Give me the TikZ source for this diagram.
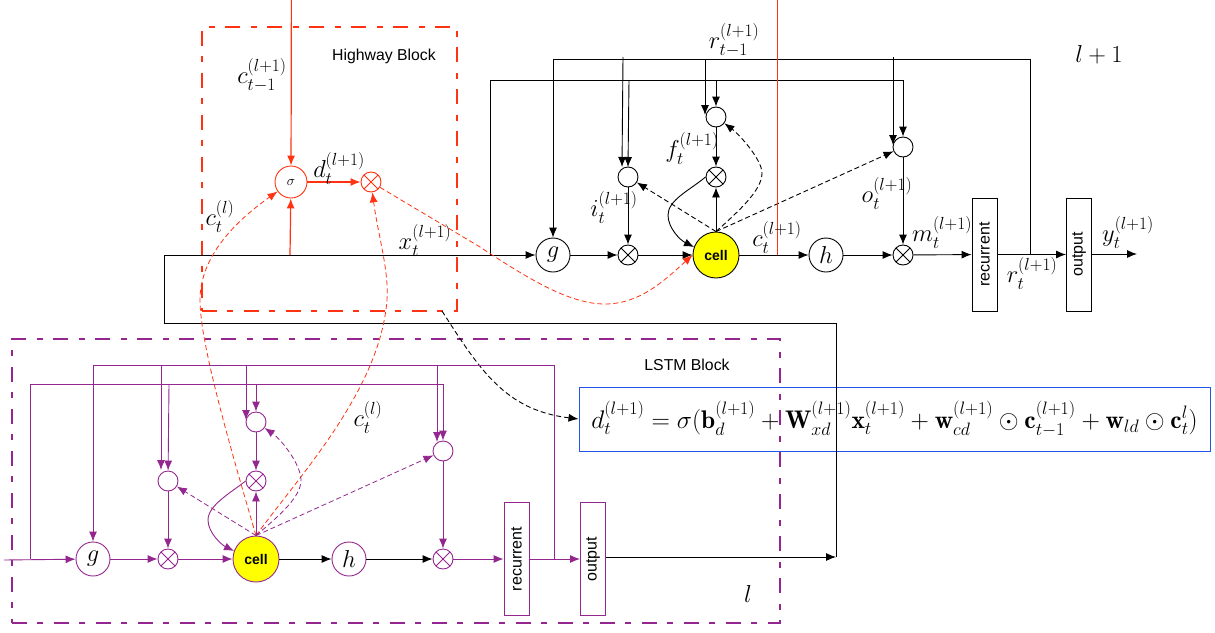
\documentclass[tikz,border=0pt]{standalone}
\usepackage{amsmath}
\usepackage{fix-cm}
\usepackage{fontspec}
\newfontfamily\hv{Liberation Sans}
\usetikzlibrary{arrows.meta}
\DeclareMathSizes{24.5}{24.5}{17.5}{13}
\DeclareMathSizes{25.5}{25.5}{18}{13.5}
\definecolor{pur}{HTML}{93278F}
\definecolor{rd}{HTML}{FF3311}
\definecolor{bl}{HTML}{2255EE}
\definecolor{yel}{HTML}{FFFF00}
\newcommand{\labfont}{\fontsize{24.5}{29}\selectfont}
\newcommand{\eqfont}{\fontsize{25.5}{30}\selectfont}
\tikzset{
  conn/.style={line width=0.9pt,-{Latex[length=10pt,width=8pt]}},
  plain/.style={line width=0.9pt},
  dsh/.style={dash pattern=on 5pt off 3pt,line width=0.9pt},
  circ/.style={circle,draw,inner sep=0pt,line width=0.9pt,minimum size=#1,fill=white},
  mult/.style={circ=20pt,draw=#1,path picture={
     \draw[line width=0.8pt,#1] (path picture bounding box.north west)--(path picture bounding box.south east)
     (path picture bounding box.north east)--(path picture bounding box.south west);}},
  mult/.default=black,
  cellnode/.style={circle,draw,fill=yel,minimum size=46pt,inner sep=0pt,line width=0.9pt,font=\hv\bfseries\fontsize{14}{16}\selectfont},
  boxn/.style={draw,fill=white,line width=0.9pt,minimum width=25pt,minimum height=113pt,inner sep=0pt,font=\hv\fontsize{16}{18}\selectfont},
  blocklabel/.style={font=\hv\fontsize{15.8}{18}\selectfont,inner sep=0pt},
  lab/.style={inner sep=0pt,font=\labfont},
  frame/.style={draw,line width=2pt,dash pattern=on 15pt off 10pt on 6pt off 11pt,inner sep=0pt},
}
\begin{document}
\begin{tikzpicture}[x=1pt,y=-1pt]
\useasboundingbox (0,0) rectangle (1215,632);
% frames
\node[frame,draw=rd,minimum width=255pt,minimum height=284pt] (hframe) at (329.5,169) {};
\node[frame,draw=pur,minimum width=768pt,minimum height=284pt] (lframe) at (396,481) {};
% top-layer nodes
\node[circ=34pt] (g1) at (553,255) {\labfont$g$};
\node[circ=20pt] (ic1) at (628,177) {};
\node[mult] (im1) at (628,255) {};
\node[circ=20pt] (fc1) at (716,117) {};
\node[mult] (fm1) at (716,177) {};
\node[cellnode] (cell1) at (716,255) {cell};
\node[circ=34pt] (h1) at (826,255) {\labfont$h$};
\node[circ=20pt] (oc1) at (903,147) {};
\node[mult] (om1) at (903,255) {};
\node[boxn] (rec1) at (984.5,254.5) {\rotatebox{90}{recurrent}};
\node[boxn] (out1) at (1079,254.5) {\rotatebox{90}{output}};
\coordinate (yend) at (1137,254);
% highway
\node[circ=32pt,draw=rd] (sig) at (291,182) {\fontsize{14}{16}\selectfont$\sigma$};
\node[mult=rd] (hm) at (371,182) {};
% bottom-layer nodes
\node[circ=34pt,draw=pur] (g0) at (93,559) {\labfont$g$};
\node[circ=20pt,draw=pur] (ic0) at (168,481) {};
\node[mult=pur] (im0) at (168,559) {};
\node[circ=20pt,draw=pur] (fc0) at (256,422) {};
\node[mult=pur] (fm0) at (256,481) {};
\node[cellnode,draw=pur] (cell0) at (256,559) {cell};
\node[circ=34pt,draw=pur] (h0) at (349,559) {\labfont$h$};
\node[circ=20pt,draw=pur] (oc0) at (443,451) {};
\node[mult=pur] (om0) at (443,559) {};
\node[boxn,draw=pur] (rec0) at (516.5,559) {\rotatebox{90}{recurrent}};
\node[boxn,draw=pur] (out0) at (593,559) {\rotatebox{90}{output}};
% coordinates
\coordinate (a1) at (164,255); \coordinate (a2) at (164,323); \coordinate (a3) at (836,323); \coordinate (a4) at (836,557);
\coordinate (b1) at (490,255); \coordinate (b2) at (490,80); \coordinate (b3) at (903,80);
\coordinate (c1) at (553,59); \coordinate (c2) at (1030,59); \coordinate (c3) at (1030,255);
\coordinate (s1a) at (623,57); \coordinate (s1b) at (622,167);
\coordinate (s2a) at (629,80); \coordinate (s2b) at (628,167);
\coordinate (s3a) at (705,59); \coordinate (s3b) at (705,115);
\coordinate (s4a) at (716,80);
\coordinate (s5a) at (893,57); \coordinate (s5b) at (893,145);
\coordinate (rt) at (291.4,-2); \coordinate (rb) at (290,255);
\coordinate (redtop) at (777.2,-2); \coordinate (redbot) at (777.2,255);
% equation
\node[draw=bl,line width=1pt,minimum width=631pt,minimum height=64pt,inner sep=0pt] (eq) at (894.5,419)
 {\eqfont$d_t^{(l+1)}=\sigma(\mathbf{b}_d^{(l+1)}+\mathbf{W}_{xd}^{(l+1)}\mathbf{x}_t^{(l+1)}+\mathbf{w}_{cd}^{(l+1)}\odot\mathbf{c}_{t-1}^{(l+1)}+\mathbf{w}_{ld}\odot\mathbf{c}_t^{l})$};
\draw[plain] (a4)--(a3)--(a2)--(a1);
% black connectors top
\draw[conn] (a1)--(g1);
\draw[conn] (b1)--(b2)--(b3)--(oc1);
\draw[conn] (c3)--(c2)--(c1)--(g1);
\draw[conn] (s1a)--(s1b);
\draw[conn] (s2a)--(s2b);
\draw[conn] (s3a)--(s3b);
\draw[conn] (s4a)--(fc1);
\draw[conn] (s5a)--(s5b);
\draw[conn] (g1)--(im1);
\draw[conn] (im1)--(cell1);
\draw[conn] (ic1)--(im1);
\draw[conn] (fc1)--(fm1);
\draw[conn] (cell1)--(fm1);
\draw[conn] (cell1)--(h1);
\draw[conn] (h1)--(om1);
\draw[conn] (oc1)--(om1);
\draw[conn] (om1)--(rec1);
\draw[conn] (rec1)--(out1);
\draw[conn] (out1.east |- yend)--(yend);
\draw[conn] (fm1.west) .. controls (690,190) and (668,200) .. (668,215) .. controls (668,228) and (680,240) .. (cell1.160);
\draw[conn,dsh] (cell1.north)--(ic1);
\draw[conn,dsh] (cell1.north)--(oc1);
\draw[conn,dsh] (cell1.north) .. controls (740,210) and (762,190) .. (762,173) .. controls (762,160) and (740,135) .. (fc1);
\draw[conn,dsh] (442,311) .. controls (480,370) and (505,410) .. (eq.west);
% red
\draw[color=rd,line width=1.2pt] (redtop)--(redbot);
\draw[conn,rd,line width=1.2pt] (rt)--(sig);
\draw[conn,rd,line width=1.2pt] (rb)--(sig);
\draw[conn,rd,line width=1.2pt] (sig)--(hm);
\draw[conn,rd,dsh,line width=0.8pt] (hm) -- (480,247) .. controls (530,280) and (570,304) .. (605,304) .. controls (640,304) and (665,280) .. (cell1.west);
\draw[conn,rd,dsh,line width=0.8pt] (cell0.north) .. controls (225,430) and (200,340) .. (200,300) .. controls (200,260) and (230,225) .. (sig);
\draw[conn,rd,dsh,line width=0.8pt] (cell0.north) .. controls (300,475) and (380,390) .. (387,300) .. controls (389,270) and (378,235) .. (hm);
% purple
\coordinate (p1) at (30,559); \coordinate (p2) at (30,384); \coordinate (p3) at (443,384);
\coordinate (q1) at (93,365); \coordinate (q2) at (554,365); \coordinate (q3) at (554,559);
\coordinate (in0) at (4,560);
\coordinate (t1a) at (161,365); \coordinate (t1b) at (161,470);
\coordinate (t2a) at (169,384);
\coordinate (t3a) at (246,365); \coordinate (t3b) at (246,420);
\coordinate (t4a) at (256,384);
\coordinate (t5a) at (437,365); \coordinate (t5b) at (437,442);
\begin{scope}[pur]
\draw[conn] (in0)--(g0);
\draw[conn] (p1)--(p2)--(p3)--(oc0);
\draw[conn] (q3)--(q2)--(q1)--(g0);
\draw[conn] (t1a)--(t1b);
\draw[conn] (t2a)--(ic0);
\draw[conn] (t3a)--(t3b);
\draw[conn] (t4a)--(fc0);
\draw[conn] (t5a)--(t5b);
\draw[conn] (g0)--(im0);
\draw[conn] (im0)--(cell0);
\draw[conn] (ic0)--(im0);
\draw[conn] (fc0)--(fm0);
\draw[conn] (cell0)--(fm0);
\draw[conn] (oc0)--(om0);
\draw[conn] (om0)--(rec0);
\draw[conn] (rec0)--(out0);
\draw[conn] (fm0.west) .. controls (232,492) and (208,505) .. (208,520) .. controls (208,533) and (222,545) .. (cell0.160);
\draw[conn,dsh,line width=0.8pt] (cell0.north)--(ic0);
\draw[conn,dsh,line width=0.8pt] (cell0.north)--(oc0);
\draw[conn,dsh,line width=0.8pt] (cell0.north) .. controls (280,515) and (301,497) .. (301,480) .. controls (301,465) and (282,440) .. (fc0);
\end{scope}
\draw[conn] (cell0)--(h0);
\draw[conn] (h0)--(om0);
\draw[conn] (out0.east |- a4)--(a4);
% labels
\node[blocklabel] (hl) at (384,56) {Highway Block};
\node[blocklabel] (ll) at (687,365) {LSTM Block};
\node[lab] (l1) at (262,75) {$c_{t-1}^{(l+1)}$};
\node[lab] (l2) at (339,168) {$d_t^{(l+1)}$};
\node[lab] (l3) at (220,216) {$c_t^{(l)}$};
\node[lab] (l4) at (425,240) {$x_t^{(l+1)}$};
\node[lab] (l5) at (734,40) {$r_{t-1}^{(l+1)}$};
\node[lab] (l6) at (692,148) {$f_t^{(l+1)}$};
\node[lab] (l7) at (614,207) {$i_t^{(l+1)}$};
\node[lab] (l8) at (887,193) {$o_t^{(l+1)}$};
\node[lab] (l9) at (777,237) {$c_t^{(l+1)}$};
\node[lab] (l10) at (942,232) {$m_t^{(l+1)}$};
\node[lab] (l11) at (1032,273) {$r_t^{(l+1)}$};
\node[lab] (l12) at (1128,232) {$y_t^{(l+1)}$};
\node[lab] (l13) at (1099,55) {$l+1$};
\node[lab] (l14) at (368,417) {$c_t^{(l)}$};
\node[lab] (l15) at (748,594) {$l$};
\end{tikzpicture}
\end{document}
